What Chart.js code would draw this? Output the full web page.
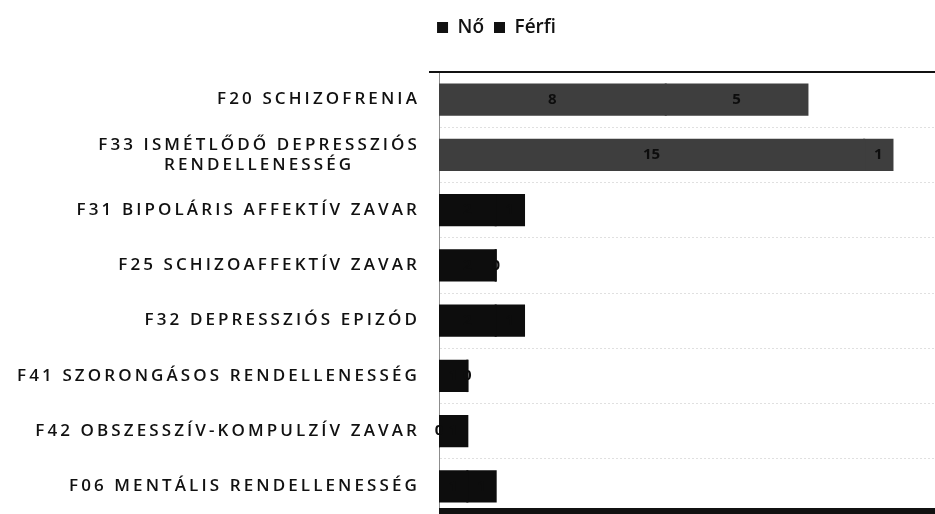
<!DOCTYPE html>
<html>
<head>
<meta charset="utf-8">
<script src="https://cdn.jsdelivr.net/npm/chart.js@4.4.1/dist/chart.umd.min.js"></script>
<style>
  html, body { margin: 0; padding: 0; background: #fff; }
  #wrap { width: 935px; height: 514px; }
</style>
</head>
<body>
<div id="wrap"><canvas id="diagChart" width="935" height="514"></canvas></div>
<script>
const categories = [
  ["F20 SCHIZOFRENIA"],
  ["F33 ISMÉTLŐDŐ DEPRESSZIÓS", "RENDELLENESSÉG"],
  ["F31 BIPOLÁRIS AFFEKTÍV ZAVAR"],
  ["F25 SCHIZOAFFEKTÍV ZAVAR"],
  ["F32 DEPRESSZIÓS EPIZÓD"],
  ["F41 SZORONGÁSOS RENDELLENESSÉG"],
  ["F42 OBSZESSZÍV-KOMPULZÍV ZAVAR"],
  ["F06 MENTÁLIS RENDELLENESSÉG"],
];
const noValues = [8, 15, 2, 2, 2, 1, 0, 1];
const ferfiValues = [5, 1, 1, 0, 1, 0, 1, 1];
const xMax = 17.5;

const ink = "#111",
  barGray = "#3e3e3e",
  barBlack = "#0d0d0d";
const barColors = categories.map((c, i) => (i < 2 ? barGray : barBlack));

// category names: right aligned block, wide tracking, wrapped lines centred
const catLabels = {
  id: "catLabels",
  afterDraw(chart) {
    const { ctx, scales } = chart;
    const yScale = scales.y;
    ctx.save();
    ctx.font = "600 17px 'Open Sans'";
    ctx.letterSpacing = "3.1px";
    ctx.fillStyle = ink;
    ctx.textBaseline = "middle";
    ctx.textAlign = "center";
    const right = chart.chartArea.left - 19;
    const lh = 20;
    categories.forEach((lines, i) => {
      const cy = yScale.getPixelForValue(i);
      const block = Math.max(...lines.map((l) => ctx.measureText(l).width));
      const cx = right - block / 2;
      lines.forEach((l, k) => {
        ctx.fillText(l, cx, cy + (k - (lines.length - 1) / 2) * lh);
      });
    });
    ctx.restore();
  },
};

// value of each stacked piece, written at its middle
const valueLabels = {
  id: "valueLabels",
  afterDatasetsDraw(chart) {
    const { ctx } = chart;
    ctx.save();
    ctx.font = "bold 15px 'Open Sans'";
    ctx.fillStyle = barBlack;
    ctx.textAlign = "center";
    ctx.textBaseline = "middle";
    chart.data.datasets.forEach((ds, di) => {
      chart.getDatasetMeta(di).data.forEach((bar, i) => {
        ctx.fillText(String(ds.data[i]), (bar.x + bar.base) / 2, bar.y);
      });
    });
    ctx.restore();
  },
};

// heavy rules above and below the plot
const frameLines = {
  id: "frameLines",
  afterDraw(chart) {
    const { ctx, chartArea } = chart;
    ctx.save();
    ctx.fillStyle = ink;
    ctx.fillRect(chartArea.left - 10, chartArea.top - 1, chartArea.right - chartArea.left + 10, 2);
    ctx.fillRect(chartArea.left, chartArea.bottom - 6, chartArea.right - chartArea.left, 7);
    ctx.restore();
  },
};

new Chart(document.getElementById("diagChart"), {
  type: "bar",
  data: {
    labels: categories,
    datasets: [
      { label: "Nő", data: noValues, backgroundColor: barColors },
      { label: "Férfi", data: ferfiValues, backgroundColor: barColors },
    ],
  },
  options: {
    indexAxis: "y",
    responsive: false,
    animation: false,
    barPercentage: 0.55,
    categoryPercentage: 1,
    inflateAmount: 1,
    layout: { padding: { top: 8, right: 0, bottom: 0, left: 58 } },
    plugins: {
      tooltip: { enabled: false },
      legend: {
        position: "top",
        labels: {
          boxWidth: 11,
          boxHeight: 11,
          padding: 10,
          color: ink,
          font: { family: "'Open Sans'", size: 19, weight: "600" },
          generateLabels: (chart) =>
            chart.data.datasets.map((ds, i) => ({
              text: ds.label,
              fillStyle: ink,
              strokeStyle: ink,
              lineWidth: 0,
              datasetIndex: i,
              fontColor: ink,
            })),
        },
      },
    },
    scales: {
      x: {
        position: "top",
        stacked: true,
        min: 0,
        max: xMax,
        ticks: { display: false },
        grid: { display: false },
        border: { display: false },
        afterFit: (s) => { s.height = 25; },
      },
      y: {
        stacked: true,
        ticks: { display: false },
        grid: { offset: true, color: "rgba(0,0,0,0.12)", drawTicks: false },
        border: { display: true, color: "rgba(0,0,0,0.45)", dash: [2, 2], width: 1 },
        afterFit: (s) => { s.width = 381; },
      },
    },
  },
  plugins: [catLabels, valueLabels, frameLines],
});
</script>
</body>
</html>
